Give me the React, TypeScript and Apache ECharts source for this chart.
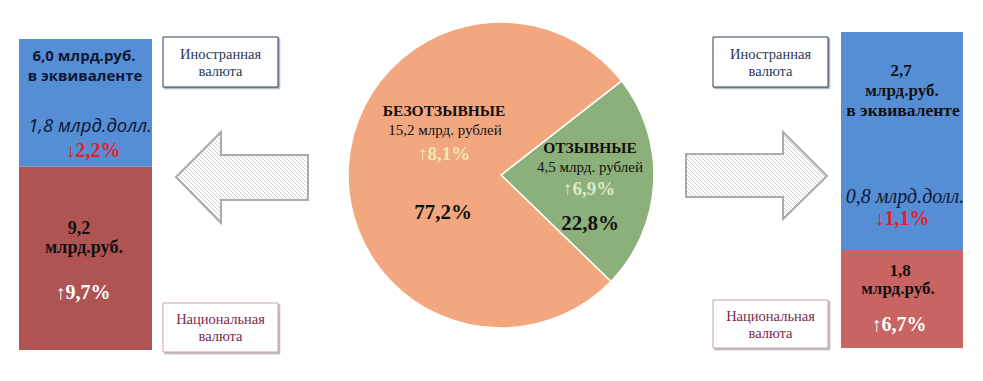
import React, { useEffect, useRef } from "react";
import * as echarts from "echarts";

// Pie: deposits by type
const pieNames = ["ОТЗЫВНЫЕ", "БЕЗОТЗЫВНЫЕ"];
const pieShares = [22.8, 77.2];
const pieAmounts = ["4,5 млрд. рублей", "15,2 млрд. рублей"];
const pieGrowth = ["↑6,9%", "↑8,1%"];

// Bars: share of bar height (foreign currency, national currency) as drawn
const leftBarShares = [41, 59];
const rightBarShares = [69, 31];
const leftForeign = ["6,0 млрд.руб.", "в эквиваленте", "1,8 млрд.долл.", "↓2,2%"];
const leftNational = ["9,2", "млрд.руб.", "↑9,7%"];
const rightForeign = ["2,7", "млрд.руб.", "в эквиваленте", "0,8 млрд.долл.", "↓1,1%"];
const rightNational = ["1,8", "млрд.руб.", "↑6,7%"];
const boxLabels = ["Иностранная\nвалюта", "Национальная\nвалюта"];

const SERIF = "'Liberation Serif', 'Times New Roman', serif";
const SANS = "'Open Sans', 'Noto Sans', sans-serif";

const BLUE = "#558ED5";
const RED_L = "#B05353";
const RED_R = "#C86461";
const ORANGE = "#F3A77F";
const GREEN = "#8CB079";
const NAVY = "#0F1734";

const hatch =
  "data:image/svg+xml;charset=utf-8," +
  encodeURIComponent(
    "<svg xmlns='http://www.w3.org/2000/svg' width='4' height='4'><path d='M-1,-1 L5,5 M-1,3 L1,5 M3,-1 L5,1' stroke='#c4c4c4' stroke-width='0.8'/></svg>"
  );

function txt(text: string, x: number, y: number, size: number, opts: any = {}) {
  return {
    type: "text",
    x,
    y,
    style: {
      text,
      fontSize: size,
      fontFamily: opts.family || SERIF,
      fontWeight: opts.weight || "normal",
      fontStyle: opts.style || "normal",
      fill: opts.fill || "#111",
      align: "center",
      verticalAlign: "middle",
      lineHeight: opts.lineHeight,
    },
    z: 100,
  };
}

function box(x: number, y: number, w: number, h: number, label: string, stroke: string, color: string) {
  return [
    {
      type: "rect",
      shape: { x, y, width: w, height: h },
      style: {
        fill: "#fff",
        stroke,
        lineWidth: 1,
        shadowColor: "rgba(0,0,0,0.35)",
        shadowOffsetX: 1.5,
        shadowOffsetY: 1.5,
        shadowBlur: 1,
      },
      z: 50,
    },
    txt(label, x + w / 2, y + h / 2, 14.5, { fill: color, lineHeight: 17 }),
  ];
}

export default function App() {
  const ref = useRef<HTMLDivElement>(null);
  useEffect(() => {
    document.body.style.margin = "0";
    const chart = echarts.init(ref.current!, null, { renderer: "svg" });
    const pattern: any = { image: hatch, repeat: "repeat", imageWidth: 4, imageHeight: 4 };
    const arrowStyle = { fill: pattern, stroke: "#ABABAB", lineWidth: 2 };
    chart.setOption({
      animation: false,
      backgroundColor: "#fff",
      grid: [
        { left: 19, top: 39, width: 133, height: 311 },
        { left: 841, top: 32, width: 122, height: 316 },
      ],
      xAxis: [
        { type: "category", gridIndex: 0, data: ["left"], show: false },
        { type: "category", gridIndex: 1, data: ["right"], show: false },
      ],
      yAxis: [
        { type: "value", gridIndex: 0, min: 0, max: 100, show: false },
        { type: "value", gridIndex: 1, min: 0, max: 100, show: false },
      ],
      series: [
        { type: "bar", xAxisIndex: 0, yAxisIndex: 0, stack: "l", barWidth: "100%", data: [leftBarShares[1]], itemStyle: { color: RED_L } },
        { type: "bar", xAxisIndex: 0, yAxisIndex: 0, stack: "l", barWidth: "100%", data: [leftBarShares[0]], itemStyle: { color: BLUE } },
        { type: "bar", xAxisIndex: 1, yAxisIndex: 1, stack: "r", barWidth: "100%", data: [rightBarShares[1]], itemStyle: { color: RED_R } },
        { type: "bar", xAxisIndex: 1, yAxisIndex: 1, stack: "r", barWidth: "100%", data: [rightBarShares[0]], itemStyle: { color: BLUE } },
        {
          type: "pie",
          center: [501, 175],
          radius: 153,
          startAngle: 38,
          clockwise: true,
          label: { show: false },
          labelLine: { show: false },
          itemStyle: { borderColor: "#fff", borderWidth: 1.5 },
          data: [
            { name: pieNames[0], value: pieShares[0], itemStyle: { color: GREEN } },
            { name: pieNames[1], value: pieShares[1], itemStyle: { color: ORANGE } },
          ],
        },
      ],
      graphic: [
        // arrows
        {
          type: "polygon",
          shape: { points: [[308, 155], [221, 155], [221, 132], [176, 177], [221, 223], [221, 200], [308, 200]] },
          style: arrowStyle,
        },
        {
          type: "polygon",
          shape: { points: [[686, 154], [783, 154], [783, 132], [827, 176], [783, 219], [783, 197], [686, 197]] },
          style: arrowStyle,
        },
        // boxes
        ...box(163, 37, 115, 50, boxLabels[0], "#2E3D5C", "#2B3756"),
        ...box(163, 303, 115, 49, boxLabels[1], "#C9A3AF", "#7A2848"),
        ...box(713, 37, 115, 50, boxLabels[0], "#2E3D5C", "#2B3756"),
        ...box(713, 300, 115, 48, boxLabels[1], "#C9A3AF", "#7A2848"),
        // left bar texts
        txt(leftForeign[0], 84, 55, 15, { family: SANS, weight: "bold", fill: NAVY }),
        txt(leftForeign[1], 85, 75, 15, { family: SANS, weight: "bold", fill: NAVY }),
        txt(leftForeign[2], 90, 124, 18.5, { family: SANS, style: "italic", fill: NAVY }),
        txt(leftForeign[3], 93, 150, 20, { weight: "bold", fill: "#E3202A" }),
        txt(leftNational[0], 79, 228, 18, { weight: "bold" }),
        txt(leftNational[1], 84, 247, 18, { weight: "bold" }),
        txt(leftNational[2], 83, 292, 20, { weight: "bold", fill: "#fff" }),
        // right bar texts
        txt(rightForeign[0], 901, 70, 17, { weight: "bold" }),
        txt(rightForeign[1], 902, 90, 17, { weight: "bold" }),
        txt(rightForeign[2], 903, 110, 17.5, { weight: "bold" }),
        txt(rightForeign[3], 905, 196, 20, { style: "italic", fill: NAVY }),
        txt(rightForeign[4], 902, 218, 20, { weight: "bold", fill: "#E3202A" }),
        txt(rightNational[0], 900, 270, 17, { weight: "bold" }),
        txt(rightNational[1], 898, 288, 17, { weight: "bold" }),
        txt(rightNational[2], 899, 324, 20, { weight: "bold", fill: "#fff" }),
        // pie texts
        txt(pieNames[1], 444, 110, 15.5, { weight: "bold" }),
        txt(pieAmounts[1], 445, 130, 15),
        txt(pieGrowth[1], 444, 153, 19, { weight: "bold", fill: "#EEE8A9" }),
        txt(pieShares[1].toFixed(1).replace(".", ",") + "%", 443, 212, 21, { weight: "bold" }),
        txt(pieNames[0], 590, 147, 15.5, { weight: "bold" }),
        txt(pieAmounts[0], 590, 167, 15),
        txt(pieGrowth[0], 589, 188, 19, { weight: "bold", fill: "#D7EBC5" }),
        txt(pieShares[0].toFixed(1).replace(".", ",") + "%", 590, 223, 21, { weight: "bold" }),
      ],
    });
    return () => chart.dispose();
  }, []);
  return <div ref={ref} style={{ width: 983, height: 381 }} />;
}
